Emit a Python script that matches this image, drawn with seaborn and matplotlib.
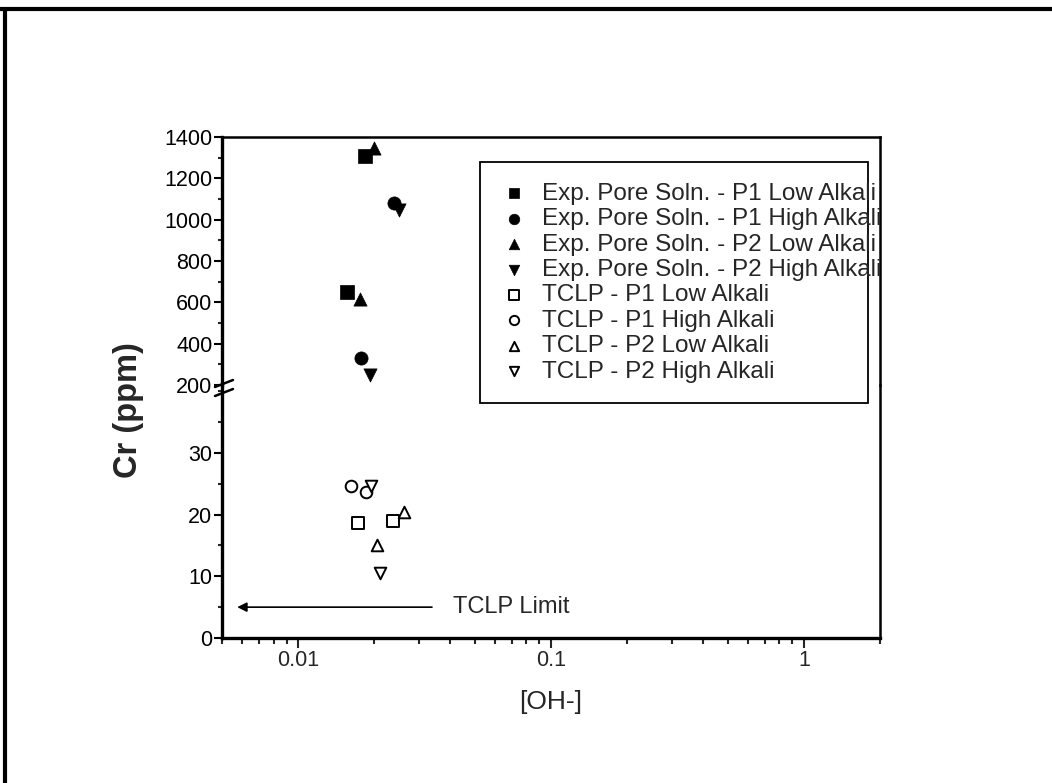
import numpy as np
import pandas as pd
import matplotlib
matplotlib.use("Agg")
import matplotlib.pyplot as plt
import seaborn as sns
from matplotlib.lines import Line2D
from matplotlib.transforms import Bbox
from matplotlib.ticker import MultipleLocator, LogLocator, NullFormatter

# Cr (ppm) against [OH-]
# expressed pore solution (upper, broken part of the axis)
pore_p1_low_x = [0.0156, 0.0184]
pore_p1_low_y = [650, 1310]
pore_p1_high_x = [0.0178, 0.0240]
pore_p1_high_y = [330, 1080]
pore_p2_low_x = [0.0176, 0.0200]
pore_p2_low_y = [615, 1345]
pore_p2_high_x = [0.0193, 0.0250]
pore_p2_high_y = [250, 1045]

# TCLP leachate (lower part of the axis)
tclp_p1_low_x = [0.0173, 0.0238]
tclp_p1_low_y = [18.7, 19.0]
tclp_p1_high_x = [0.0162, 0.0186]
tclp_p1_high_y = [24.7, 23.7]
tclp_p2_low_x = [0.0206, 0.0263]
tclp_p2_low_y = [15.0, 20.5]
tclp_p2_high_x = [0.0195, 0.0210]
tclp_p2_high_y = [24.7, 10.5]

tclp_limit = 5
xticks = [0.01, 0.1, 1]
xtick_labels = ["0.01", "0.1", "1"]
top_ticks = [200, 400, 600, 800, 1000, 1200, 1400]
low_ticks = [0, 10, 20, 30]

sns.set_theme(style="ticks")
plt.rcParams['font.family'] = ['Liberation Sans', 'DejaVu Sans']
plt.rcParams['xtick.direction'] = 'out'
plt.rcParams['ytick.direction'] = 'out'

W, H = 1052, 783
fig = plt.figure(figsize=(W / 100, H / 100), dpi=100)


def box(x0, y0, x1, y1):
    # pixel box of the picture -> figure fraction
    return [x0 / W, 1 - y1 / H, (x1 - x0) / W, (y1 - y0) / H]


ax_top = fig.add_axes(box(222, 137, 880, 385))
ax_low = fig.add_axes(box(222, 385, 880, 638))
ax_low.patch.set_alpha(0)

for ax in (ax_top, ax_low):
    ax.set_xscale('log')

filled = [
    (pore_p1_low_x, pore_p1_low_y, 's', "Exp. Pore Soln. - P1 Low Alkali"),
    (pore_p1_high_x, pore_p1_high_y, 'o', "Exp. Pore Soln. - P1 High Alkali"),
    (pore_p2_low_x, pore_p2_low_y, '^', "Exp. Pore Soln. - P2 Low Alkali"),
    (pore_p2_high_x, pore_p2_high_y, 'v', "Exp. Pore Soln. - P2 High Alkali"),
]
for x, y, m, lab in filled:
    sns.scatterplot(x=x, y=y, ax=ax_top, marker=m, s=90, color='black',
                    edgecolor='black', linewidth=0.5, label=lab, clip_on=False, zorder=3)

hollow = [
    (tclp_p1_low_x, tclp_p1_low_y, 's', "TCLP - P1 Low Alkali"),
    (tclp_p1_high_x, tclp_p1_high_y, 'o', "TCLP - P1 High Alkali"),
    (tclp_p2_low_x, tclp_p2_low_y, '^', "TCLP - P2 Low Alkali"),
    (tclp_p2_high_x, tclp_p2_high_y, 'v', "TCLP - P2 High Alkali"),
]
for x, y, m, lab in hollow:
    sns.scatterplot(x=x, y=y, ax=ax_low, marker=m, s=70, color='white',
                    edgecolor='black', linewidth=1.4, label=lab, zorder=3)

for ax in (ax_top, ax_low):
    if ax.get_legend() is not None:
        ax.get_legend().remove()
    ax.set_xlim(0.005, 2)
    ax.set_xlabel("")
    ax.set_ylabel("")
    ax.tick_params(axis='y', which='major', length=6, width=1.5, labelsize=15.5, pad=1, colors='black')
    ax.tick_params(axis='y', which='minor', length=3, width=1.5)
    ax.spines['left'].set_linewidth(2.4)
    ax.spines['right'].set_linewidth(1.8)
    for s in ax.spines.values():
        s.set_color('black')

ax_top.set_ylim(200, 1400)
ax_top.set_yticks(top_ticks)
ax_top.yaxis.set_minor_locator(MultipleLocator(100))
ax_top.spines['bottom'].set_visible(False)
ax_top.spines['top'].set_linewidth(1.8)
ax_top.tick_params(axis='x', which='both', bottom=False, top=False, labelbottom=False)

ax_low.set_ylim(0, 41)
ax_low.set_yticks(low_ticks)
ax_low.yaxis.set_minor_locator(MultipleLocator(5))
ax_low.spines['top'].set_visible(False)
ax_low.spines['bottom'].set_linewidth(2.4)
ax_low.set_xticks(xticks)
ax_low.set_xticklabels(xtick_labels)
ax_low.xaxis.set_minor_locator(LogLocator(base=10, subs=np.arange(2, 10)))
ax_low.xaxis.set_minor_formatter(NullFormatter())
ax_low.tick_params(axis='x', which='major', length=7, width=1.5, labelsize=15.5, pad=2)
ax_low.tick_params(axis='x', which='minor', length=4, width=1.5)

# TCLP regulatory limit
ax_low.annotate("", xy=(0.0056, tclp_limit), xytext=(0.0347, tclp_limit),
                arrowprops=dict(arrowstyle='-|>', color='black', lw=1.2, mutation_scale=14))
ax_low.text(0.0408, tclp_limit, "TCLP Limit", va='center', ha='left', fontsize=17)

# axis break on the left spine
for dy in (0, 9):
    fig.add_artist(Line2D([215 / W, 233 / W], [1 - (387 + dy) / H, 1 - (380 + dy) / H],
                          transform=fig.transFigure, color='black', lw=1.8))

fig.text(129 / W, 1 - 410 / H, "Cr (ppm)", rotation=90, ha='center', va='center',
         fontsize=23.5, fontweight='bold')
fig.text(551 / W, 1 - 702 / H, "[OH-]", ha='center', va='center', fontsize=19)

handles, labels = ax_top.get_legend_handles_labels()
h2, l2 = ax_low.get_legend_handles_labels()
leg = fig.legend(handles + h2, labels + l2, loc='upper left',
                 bbox_to_anchor=(480 / W, 1 - 400 / H, 388 / W, 238 / H), mode='expand',
                 borderaxespad=0, fontsize=17.5, frameon=True, fancybox=False,
                 edgecolor='black', framealpha=1, markerscale=0.8,
                 borderpad=0.85, handlelength=1.1, handletextpad=0.6, labelspacing=0.14)
leg.get_frame().set_linewidth(1.3)
# long labels run into the right spine and get cut there, as in the scan
plot_area = Bbox.union([ax_top.bbox, ax_low.bbox])
for t in leg.get_texts():
    t.set_clip_box(plot_area)
    t.set_clip_on(True)

# scan frame around the whole figure
fig.add_artist(Line2D([0, 1], [1 - 9 / H, 1 - 9 / H], transform=fig.transFigure, color='black', lw=3))
fig.add_artist(Line2D([5 / W, 5 / W], [0, 1 - 9 / H], transform=fig.transFigure, color='black', lw=3))

fig.savefig("out.png", dpi=100)
